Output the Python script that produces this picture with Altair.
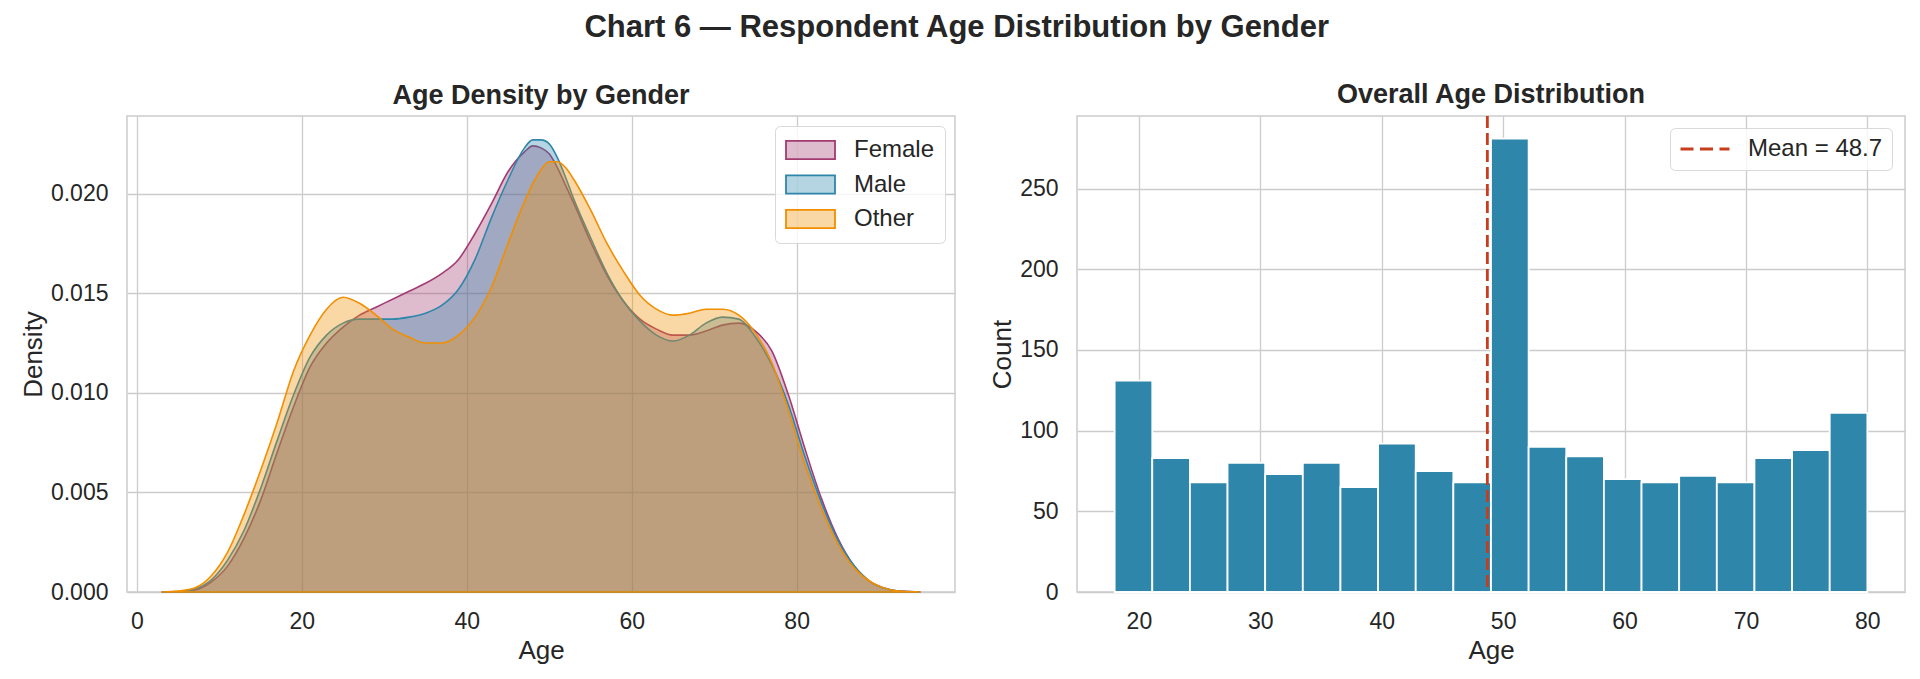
import altair as alt
import pandas as pd

SUPTITLE = "Chart 6 — Respondent Age Distribution by Gender"
LEFT_TITLE = "Age Density by Gender"
RIGHT_TITLE = "Overall Age Distribution"

GENDERS = ["Female", "Male", "Other"]
GENDER_COLORS = ["#A23B72", "#2E86AB", "#F18F01"]
FILL_ALPHA = 0.35

KDE_AGES = [3, 5, 7, 9, 11, 13, 15, 17, 19, 21, 23, 25, 27, 29, 31, 33, 35, 37, 39, 41,
            43, 45, 47, 48, 49, 50, 51, 52, 53, 55, 57, 59, 61, 63, 65, 67, 69, 71, 73, 75,
            77, 79, 81, 83, 85, 87, 89, 91, 93, 95]
DENSITY_FEMALE = [0.0, 0.00001, 0.0001, 0.0005, 0.0013, 0.0027, 0.0046, 0.0070, 0.0093, 0.0113,
                  0.0125, 0.0133, 0.0139, 0.0143, 0.0147, 0.0151, 0.0155, 0.0160, 0.0167, 0.0180,
                  0.0195, 0.0211, 0.0221, 0.0224, 0.0223, 0.0220, 0.0213, 0.0204, 0.0195, 0.0176,
                  0.0159, 0.0146, 0.0137, 0.0132, 0.0129, 0.0129, 0.0131, 0.0134, 0.0135, 0.0131,
                  0.0121, 0.0099, 0.0072, 0.0047, 0.0027, 0.0013, 0.0005, 0.00015, 0.00003, 0.0]
DENSITY_MALE = [0.0, 0.00002, 0.00015, 0.0006, 0.0016, 0.0031, 0.0052, 0.0076, 0.0099, 0.0118,
                0.0129, 0.0135, 0.0137, 0.0137, 0.0137, 0.0138, 0.0140, 0.0144, 0.0152, 0.0167,
                0.0188, 0.0207, 0.0223, 0.0227, 0.0227, 0.0225, 0.0218, 0.0208, 0.0197, 0.0178,
                0.0160, 0.0146, 0.0136, 0.0129, 0.0126, 0.0129, 0.0135, 0.0138, 0.0137, 0.0128,
                0.0114, 0.0094, 0.0068, 0.0045, 0.0026, 0.0013, 0.0005, 0.00015, 0.00003, 0.0]
DENSITY_OTHER = [0.0, 0.00005, 0.0002, 0.0008, 0.0020, 0.0039, 0.0061, 0.0085, 0.0111, 0.0129,
                 0.0142, 0.0148, 0.0145, 0.0139, 0.0132, 0.0128, 0.0125, 0.0125, 0.0129, 0.0138,
                 0.0153, 0.0175, 0.0196, 0.0205, 0.0212, 0.0216, 0.0216, 0.0213, 0.0207, 0.0192,
                 0.0175, 0.0161, 0.0149, 0.0142, 0.0139, 0.0140, 0.0142, 0.0142, 0.0139, 0.0130,
                 0.0115, 0.0091, 0.0064, 0.0042, 0.0024, 0.0012, 0.0005, 0.00015, 0.00003, 0.0]

BIN_START = [18.0, 21.1, 24.2, 27.3, 30.4, 33.5, 36.6, 39.7, 42.8, 45.9,
             49.0, 52.1, 55.2, 58.3, 61.4, 64.5, 67.6, 70.7, 73.8, 76.9]
BIN_END = [21.1, 24.2, 27.3, 30.4, 33.5, 36.6, 39.7, 42.8, 45.9, 49.0,
           52.1, 55.2, 58.3, 61.4, 64.5, 67.6, 70.7, 73.8, 76.9, 80.0]
BIN_COUNTS = [131, 83, 68, 80, 73, 80, 65, 92, 75, 68,
              281, 90, 84, 70, 68, 72, 68, 83, 88, 111]
MEAN_AGE = 48.7

BAR_COLOR = "#2E86AB"
MEAN_COLOR = "#C73E1D"

KDE_X_TICKS = [0, 20, 40, 60, 80]
KDE_Y_TICKS = [0.0, 0.005, 0.010, 0.015, 0.020]
HIST_X_TICKS = [20, 30, 40, 50, 60, 70, 80]
HIST_Y_TICKS = [0, 50, 100, 150, 200, 250]

FONT = "Liberation Sans"
TEXT = "#262626"
GRID = "#cccccc"


def rgba(hex_color, alpha):
    h = hex_color.lstrip("#")
    r, g, b = int(h[0:2], 16), int(h[2:4], 16), int(h[4:6], 16)
    return f"rgba({r},{g},{b},{alpha})"


FILL_COLORS = [rgba(c, FILL_ALPHA) for c in GENDER_COLORS]

# ---------- data tables ----------
rows = []
for g, dens in zip(GENDERS, [DENSITY_FEMALE, DENSITY_MALE, DENSITY_OTHER]):
    for a, d in zip(KDE_AGES, dens):
        rows.append({"gender": g, "age": a, "density": d})
kde_df = pd.DataFrame(rows)

hist_df = pd.DataFrame({"start": BIN_START, "end": BIN_END, "count": BIN_COUNTS})
MEAN_LABEL = f"Mean = {MEAN_AGE}"
mean_df = pd.DataFrame({"age": [MEAN_AGE], "label": [MEAN_LABEL]})

# ---------- left: KDE ----------
kde_x = alt.X("age:Q", title="Age",
              scale=alt.Scale(domain=[-1.2, 99.2], nice=False, zero=False),
              axis=alt.Axis(values=KDE_X_TICKS))
kde_y = alt.Y("density:Q", title="Density",
              scale=alt.Scale(domain=[0, 0.0239], nice=False),
              axis=alt.Axis(values=KDE_Y_TICKS, format=".3f", labelPadding=19))
kde_legend = alt.Legend(
    title=None, orient="none", legendX=648, legendY=10,
    symbolType="M-1,-0.37H1V0.37H-1Z", symbolSize=2401, symbolStrokeWidth=1.8,
    clipHeight=28, rowPadding=6.5, padding=10, labelOffset=18,
    fillColor="rgba(255,255,255,0.8)", strokeColor="#d9d9d9", cornerRadius=5,
    labelFontSize=24, labelFont=FONT, labelColor=TEXT,
)
fill_scale = alt.Scale(domain=GENDERS, range=FILL_COLORS)
stroke_scale = alt.Scale(domain=GENDERS, range=GENDER_COLORS)

kde_layers = []
for g in GENDERS:
    kde_layers.append(
        alt.Chart(kde_df)
        .transform_filter(alt.datum.gender == g)
        .mark_area(interpolate="monotone", fillOpacity=1, strokeWidth=1.6, strokeOpacity=1)
        .encode(
            x=kde_x, y=kde_y,
            fill=alt.Fill("gender:N", scale=fill_scale, legend=kde_legend),
            stroke=alt.Stroke("gender:N", scale=stroke_scale, legend=kde_legend),
        )
    )
left = alt.layer(*kde_layers).properties(width=828, height=476, title=LEFT_TITLE)

# ---------- right: histogram ----------
hist_x = alt.X("start:Q", title="Age",
               scale=alt.Scale(domain=[14.9, 83.1], nice=False, zero=False),
               axis=alt.Axis(values=HIST_X_TICKS))
hist_y = alt.Y("count:Q", title="Count",
               scale=alt.Scale(domain=[0, 295], nice=False),
               axis=alt.Axis(values=HIST_Y_TICKS, labelPadding=19))
bars = alt.Chart(hist_df).mark_bar(color=BAR_COLOR, stroke="white", strokeWidth=1.8).encode(
    x=hist_x, x2="end:Q", y=hist_y, y2=alt.datum(0)
)
# legends of a concatenated chart are placed relative to the first panel's plot origin
mean_legend = alt.Legend(
    title=None, orient="none", legendX=1543, legendY=12,
    symbolType="stroke", symbolSize=2401, symbolStrokeWidth=2.8, symbolDash=[13, 6.5],
    clipHeight=24, padding=9, labelOffset=17,
    fillColor="rgba(255,255,255,0.8)", strokeColor="#d9d9d9", cornerRadius=5,
    labelFontSize=24, labelFont=FONT, labelColor=TEXT,
)
rule = alt.Chart(mean_df).mark_rule(strokeWidth=2.8, strokeDash=[12, 5]).encode(
    x=alt.X("age:Q"),
    color=alt.Color("label:N", scale=alt.Scale(domain=[MEAN_LABEL], range=[MEAN_COLOR]),
                    legend=mean_legend),
)
right = alt.layer(bars, rule).properties(width=828, height=476, title=RIGHT_TITLE)

chart = (
    alt.hconcat(left, right, spacing=32)
    .properties(
        title=alt.TitleParams(SUPTITLE, fontSize=31, fontWeight="bold", anchor="middle",
                              font=FONT, color=TEXT, offset=36, dx=-6),
        padding={"left": 11, "top": 3, "right": 0, "bottom": 0},
        background="white",
    )
    .configure_view(stroke=GRID, strokeWidth=1.5)
    .configure_axis(
        labelFont=FONT, labelFontSize=23, labelColor=TEXT,
        titleFont=FONT, titleFontSize=26, titleFontWeight="normal", titleColor=TEXT,
        gridColor=GRID, gridWidth=1.3, domain=False, ticks=False,
        labelPadding=18, titlePadding=4,
    )
    .configure_title(font=FONT, fontSize=27, fontWeight="bold", color=TEXT, offset=6)
    .configure_legend(labelFont=FONT, labelFontSize=24, labelColor=TEXT)
)

chart.save("out.html", embed_options={"renderer": "svg", "actions": False})
